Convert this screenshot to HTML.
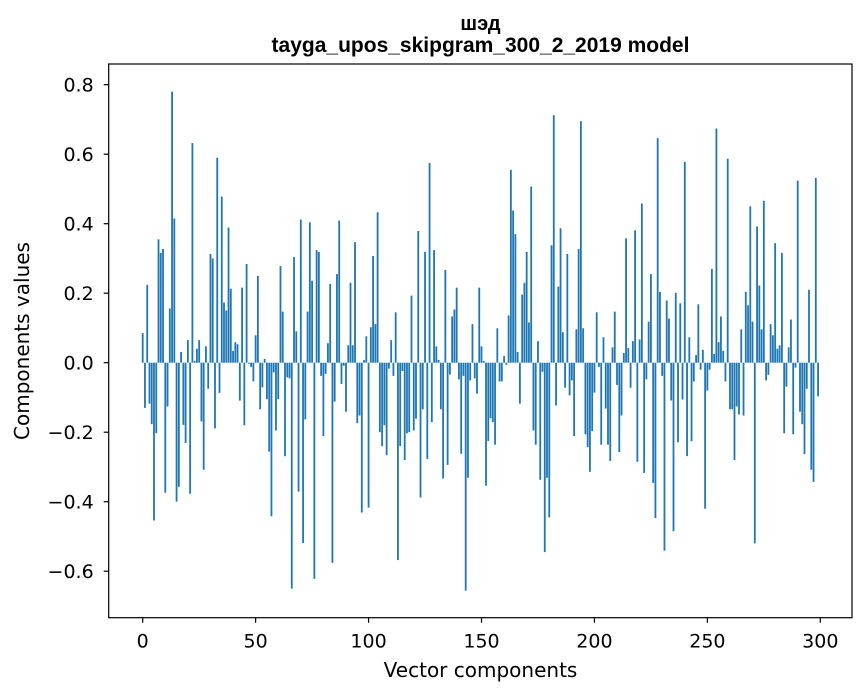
<!DOCTYPE html>
<html><head><meta charset="utf-8"><style>
html,body{margin:0;padding:0;background:#fff;}
svg{display:block;font-family:"DejaVu Sans","Liberation Sans",sans-serif;}
</style></head><body>
<svg id="chart" width="867" height="696" viewBox="0 0 867 696" xmlns="http://www.w3.org/2000/svg">
<rect width="867" height="696" fill="#fff"/>
<text x="480.5" y="30" text-anchor="middle" font-size="20" font-weight="bold" font-family="Liberation Sans, sans-serif" fill="#000">шэд</text>
<text x="480.5" y="52" text-anchor="middle" font-size="21" font-weight="bold" font-family="Liberation Sans, sans-serif" fill="#000">tayga_upos_skipgram_300_2_2019 model</text>
<g id="bars"></g>
<g id="axes"></g>
<text x="480.5" y="677" text-anchor="middle" font-size="20" fill="#000">Vector components</text>
<text x="0" y="0" transform="translate(29,341) rotate(-90)" text-anchor="middle" font-size="20" fill="#000">Components values</text>
</svg>
<script>
const values = [
0.085,-0.13,0.224,-0.118,-0.177,-0.454,-0.203,0.355,0.316,0.327,-0.374,-0.126,0.156,0.78,0.415,-0.40,-0.357,0.031,-0.179,-0.231,0.065,-0.377,0.632,0.005,0.04,0.065,-0.169,-0.308,0.047,-0.075,0.313,0.30,-0.189,0.59,-0.087,0.478,0.173,0.15,0.389,0.213,0.034,0.059,0.053,-0.109,0.216,-0.18,0.284,-0.003,-0.012,-0.054,0.079,
0.25,-0.134,-0.071,0.011,-0.105,-0.256,-0.442,-0.028,-0.195,-0.105,0.278,0.147,-0.269,-0.042,-0.045,-0.65,0.304,0.09,-0.371,0.412,-0.519,-0.163,0.147,0.404,0.236,-0.622,0.324,0.319,-0.038,-0.211,-0.032,0.056,0.227,-0.576,-0.112,0.255,0.409,-0.061,-0.009,-0.141,0.05,0.23,0.05,0.347,-0.174,-0.152,-0.431,0.008,0.076,
-0.417,0.102,0.307,0.111,0.433,-0.2,-0.24,-0.18,-0.266,-0.017,0.065,-0.038,0.145,-0.568,-0.24,-0.024,-0.28,-0.203,-0.2,0.193,-0.195,-0.161,0.379,-0.388,-0.134,0.319,-0.277,0.575,-0.171,0.324,0.047,0.008,-0.134,-0.333,0.267,-0.294,-0.034,0.133,0.153,0.216,-0.048,-0.262,-0.038,-0.656,-0.331,-0.051,0.111,-0.045,-0.089,0.216,
0.047,0.005,-0.354,-0.225,-0.16,-0.171,-0.236,0.099,-0.054,-0.054,0.019,-0.006,0.136,0.555,0.438,0.37,0.031,-0.118,0.196,0.23,0.319,0.116,0.507,-0.195,-0.236,0.062,-0.337,-0.026,-0.545,-0.331,-0.445,0.338,0.712,-0.123,0.219,0.387,0.088,-0.072,0.313,-0.094,-0.051,-0.211,0.096,0.327,0.695,0.099,-0.206,-0.243,-0.314,-0.197,
-0.086,0.145,-0.012,-0.236,0.073,-0.132,-0.236,-0.283,0.044,0.147,-0.064,-0.257,-0.152,0.028,0.358,0.042,-0.072,0.062,0.381,-0.285,0.067,0.458,-0.317,-0.048,0.118,0.255,-0.346,-0.447,0.646,0.204,-0.038,-0.541,0.179,0.127,-0.109,-0.485,0.201,-0.229,0.171,-0.106,0.578,-0.269,0.073,-0.226,-0.054,0.022,0.168,-0.02,0.037,-0.42,
-0.08,-0.02,0.27,0.025,0.674,0.059,0.133,0.034,-0.054,0.587,-0.134,-0.134,-0.28,-0.126,-0.149,0.096,-0.152,0.204,0.165,0.45,0.118,-0.52,0.392,0.222,0.096,0.466,-0.051,-0.035,0.111,0.079,0.344,0.04,0.05,0.316,-0.203,-0.069,0.044,0.124,-0.206,-0.014,0.524,-0.141,-0.177,-0.263,-0.075,0.21,-0.308,-0.343,0.532,-0.097
];
const xTicks = [0,50,100,150,200,250,300];
const yTicks = [-0.6,-0.4,-0.2,0.0,0.2,0.4,0.6,0.8];
const yTickLabels = ["\u22120.6","\u22120.4","\u22120.2","0.0","0.2","0.4","0.6","0.8"];

const NS="http://www.w3.org/2000/svg";
const L=108.7,R=852,T=64,B=617.7;
function xs(v){return 142.7+v*2.2587;}
function ys(v){return 362.7-v*347.5;}
function mk(tag,attrs,parent){const e=document.createElementNS(NS,tag);for(const k in attrs)e.setAttribute(k,attrs[k]);parent.appendChild(e);return e;}

const bars=document.getElementById('bars');
values.forEach((v,i)=>{
  const x0=xs(i-0.4),x1=xs(i+0.4);
  const y0=ys(Math.max(v,0)),y1=ys(Math.min(v,0));
  const r=mk('rect',{x:x0,y:y0,width:x1-x0,height:Math.max(y1-y0,0.01),fill:'#1f77b4'},bars);
  
  
});

const axes=document.getElementById('axes');
const frame=mk('rect',{x:L,y:T,width:R-L,height:B-T,fill:'none',stroke:'#000','stroke-width':1.2},axes);


xTicks.forEach(t=>{
  const x=xs(t);
  const ln=mk('line',{x1:x,x2:x,y1:B,y2:B+5,stroke:'#000','stroke-width':1.2},axes);
  
  
  const tx=mk('text',{x:x,y:B+30,'text-anchor':'middle','font-size':'19',fill:'#000'},axes);
  tx.textContent=String(t);
  
  
});
yTicks.forEach((t,i)=>{
  const y=ys(t);
  const ln=mk('line',{x1:L-5,x2:L,y1:y,y2:y,stroke:'#000','stroke-width':1.2},axes);
  
  
  const tx=mk('text',{x:L-15,y:y+7,'text-anchor':'end','font-size':'19',fill:'#000'},axes);
  tx.textContent=yTickLabels[i];
  
  
});
</script>
</body></html>
